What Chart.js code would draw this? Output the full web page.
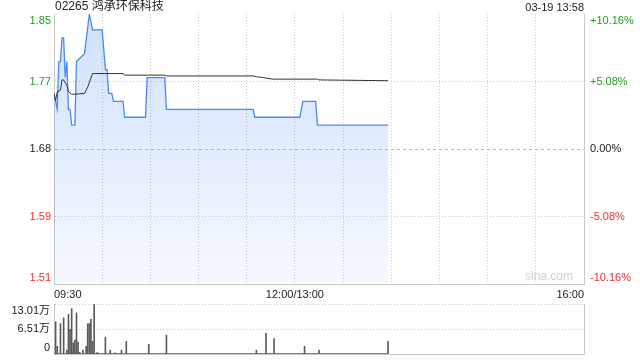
<!DOCTYPE html>
<html>
<head>
<meta charset="utf-8">
<script src="https://cdn.jsdelivr.net/npm/chart.js@4.4.1/dist/chart.umd.min.js"></script>
<style>
  html, body { margin: 0; padding: 0; background: #fff; width: 640px; height: 360px; overflow: hidden; }
  #main { position: absolute; left: 0; top: 0; }
  #vol { position: absolute; left: 0; top: 300px; }
</style>
</head>
<body>
<canvas id="main" width="640" height="300"></canvas>
<canvas id="vol" width="640" height="60"></canvas>
<script>
// header texts
const stockTitle = '02265 鸿承环保科技';
const stampText = '03-19 13:58';
const watermark = 'sina.com';

// time axis: minutes since 09:30 (lunch break removed, 330 trading minutes)
const timeTicks = [0, 150, 330];
const timeLabels = ['09:30', '12:00/13:00', '16:00'];

// price axis (left) and change axis (right)
const priceTicks = [1.51, 1.595, 1.68, 1.765, 1.85];
const priceLabels = ['1.51', '1.59', '1.68', '1.77', '1.85'];
const pctTicks = [-10.16, -5.08, 0, 5.08, 10.16];
const pctLabels = ['-10.16%', '-5.08%', '0.00%', '+5.08%', '+10.16%'];

// volume axis (万股)
const volTicks = [0, 6.505, 13.01];
const volLabels = ['0', '6.51万', '13.01万'];

// price line
const priceMinutes = [0, 1, 2, 3, 4, 5, 6, 7, 8, 9, 10, 11, 12, 13, 14, 19, 22, 24, 30, 32, 33, 34, 36, 37, 43, 44, 57, 58, 69, 70, 124, 125, 153, 155, 163, 164, 208];
const priceValues = [1.75, 1.74, 1.73, 1.79, 1.79, 1.82, 1.82, 1.77, 1.79, 1.73, 1.73, 1.71, 1.71, 1.71, 1.79, 1.80, 1.85, 1.83, 1.83, 1.78, 1.78, 1.75, 1.75, 1.74, 1.74, 1.72, 1.72, 1.77, 1.77, 1.73, 1.73, 1.72, 1.72, 1.74, 1.74, 1.71, 1.71];

// average price line
const avgMinutes = [0, 1, 2, 4, 5, 6, 8, 9, 11, 13, 19, 21, 24, 43, 44, 69, 70, 124, 126, 130, 136, 164, 165, 208];
const avgValues = [1.75, 1.741, 1.752, 1.754, 1.767, 1.767, 1.760, 1.752, 1.749, 1.749, 1.750, 1.758, 1.775, 1.775, 1.773, 1.773, 1.772, 1.772, 1.771, 1.770, 1.768, 1.768, 1.767, 1.766];

// volume bars
const volMinutes = [1, 2, 4, 6, 8, 9, 10, 11, 12, 13, 14, 15, 16, 18, 20, 21, 22, 23, 24, 25, 27, 32, 35, 38, 42, 45, 59, 70, 126, 132, 137, 156, 165, 208];
const volValues = [8.4, 2.0, 7.9, 9.4, 1.0, 10.3, 6.4, 11.8, 2.9, 3.6, 10.7, 3.1, 0.4, 1.0, 2.0, 7.9, 7.9, 9.0, 3.3, 13.01, 0.4, 4.4, 1.0, 0.3, 1.0, 3.3, 2.5, 4.9, 1.0, 5.4, 4.0, 2.0, 1.0, 3.3];
const tradedRange = [0, 208];

const GRID = '#cccccc';
const FRAME = '#c8c8c8';
const UP = '#1f9e1f';
const DOWN = '#ee3030';
const LATIN = '"Liberation Sans", Arial, sans-serif';
const FONT = '11px ' + LATIN;

function toTicks(values) {
  return values.map(v => ({ value: v }));
}

function labelY(scale, v) {
  const y = scale.getPixelForValue(v);
  return Math.min(Math.max(y, scale.top + 6.5), scale.bottom - 6.5);
}

function signColor(i, mid) {
  if (i > mid) return UP;
  if (i < mid) return DOWN;
  return '#222';
}

// axis texts for the price panel
const priceText = {
  id: 'priceText',
  afterDraw(chart) {
    const { ctx, chartArea, scales } = chart;
    ctx.save();
    ctx.textBaseline = 'middle';
    ctx.font = '12px ' + LATIN.replace('sans-serif', '"Noto Sans CJK SC", sans-serif');
    ctx.fillStyle = '#222';
    ctx.textAlign = 'left';
    ctx.fillText(stockTitle, chartArea.left + 1, 7);
    ctx.font = FONT;
    ctx.textAlign = 'right';
    ctx.fillText(stampText, chartArea.right, 8);

    priceTicks.forEach((v, i) => {
      ctx.fillStyle = signColor(i, 2);
      ctx.textAlign = 'right';
      ctx.fillText(priceLabels[i], chartArea.left - 3, labelY(scales.y, v));
    });
    pctTicks.forEach((v, i) => {
      ctx.fillStyle = signColor(i, 2);
      ctx.textAlign = 'left';
      ctx.fillText(pctLabels[i], chartArea.right + 6, labelY(scales.pct, v));
    });

    ctx.font = '12px ' + LATIN;
    ctx.fillStyle = '#d0d0d0';
    ctx.textAlign = 'right';
    ctx.fillText(watermark, chartArea.right - 11, chartArea.bottom - 7);
    ctx.restore();
  }
};

// axis texts for the volume panel
const volText = {
  id: 'volText',
  afterDraw(chart) {
    const { ctx, chartArea, scales } = chart;
    ctx.save();
    ctx.textBaseline = 'middle';
    ctx.textAlign = 'right';
    ctx.fillStyle = '#222';
    ctx.font = '11px ' + LATIN.replace('sans-serif', '"Noto Sans CJK SC", sans-serif');
    volTicks.forEach((v, i) => {
      ctx.fillText(volLabels[i], chartArea.left - 4, labelY(scales.y, v));
    });
    ctx.restore();
  }
};

new Chart(document.getElementById('main'), {
  type: 'line',
  data: {
    datasets: [
      {
        label: '均价',
        data: avgMinutes.map((m, i) => ({ x: m, y: avgValues[i] })),
        borderColor: '#333',
        borderWidth: 1,
        pointRadius: 0,
        fill: false,
        order: 0
      },
      {
        label: '价格',
        data: priceMinutes.map((m, i) => ({ x: m, y: priceValues[i] })),
        borderColor: '#4a8af0',
        borderWidth: 1.3,
        pointRadius: 0,
        fill: 'start',
        backgroundColor: c => {
          const area = c.chart.chartArea;
          if (!area) return 'rgba(74,138,240,0.15)';
          const g = c.chart.ctx.createLinearGradient(0, area.top, 0, area.bottom);
          g.addColorStop(0, 'rgba(74,138,240,0.26)');
          g.addColorStop(1, 'rgba(74,138,240,0.05)');
          return g;
        },
        order: 1
      }
    ]
  },
  options: {
    responsive: false,
    animation: false,
    devicePixelRatio: 1,
    layout: { padding: { top: 14, left: 0, right: 0, bottom: 0 } },
    plugins: { legend: { display: false }, tooltip: { enabled: false } },
    scales: {
      x: {
        type: 'linear',
        min: 0,
        max: 330,
        ticks: {
          stepSize: 30,
          autoSkip: false,
          maxRotation: 0,
          align: 'inner',
          padding: 4,
          color: '#222',
          font: { family: LATIN, size: 11 },
          callback: v => {
            const i = timeTicks.indexOf(v);
            return i >= 0 ? timeLabels[i] : '';
          }
        },
        grid: { color: GRID, drawTicks: false },
        border: { color: FRAME, dash: [1, 2] },
        afterFit: s => { s.height = 16; }
      },
      y: {
        position: 'left',
        min: 1.51,
        max: 1.85,
        afterBuildTicks: s => { s.ticks = toTicks(priceTicks); },
        ticks: { display: false },
        grid: {
          drawTicks: false,
          color: c => {
            if (c.tick && c.tick.value === 1.85) return 'rgba(0,0,0,0)';
            if (c.tick && c.tick.value === 1.68) return '#b8b8b8';
            return GRID;
          }
        },
        border: {
          color: FRAME,
          dash: c => (c.tick && c.tick.value === 1.68) ? [3, 3] : [1, 2]
        },
        afterFit: s => { s.width = 54; }
      },
      pct: {
        position: 'right',
        min: -10.16,
        max: 10.16,
        afterBuildTicks: s => { s.ticks = toTicks(pctTicks); },
        ticks: { display: false },
        grid: { drawOnChartArea: false, drawTicks: false },
        border: { color: FRAME },
        afterFit: s => { s.width = 56; }
      }
    }
  },
  plugins: [priceText]
});

new Chart(document.getElementById('vol'), {
  type: 'bar',
  data: {
    datasets: [
      {
        type: 'line',
        data: tradedRange.map(m => ({ x: m, y: 0 })),
        borderColor: '#555',
        borderWidth: 1.5,
        pointRadius: 0,
        order: 0
      },
      {
        data: volMinutes.map((m, i) => ({ x: m, y: volValues[i] })),
        backgroundColor: '#5a5a5a',
        barThickness: 1,
        order: 1
      }
    ]
  },
  options: {
    responsive: false,
    animation: false,
    devicePixelRatio: 1,
    layout: { padding: { top: 4, left: 0, right: 0, bottom: 0 } },
    plugins: { legend: { display: false }, tooltip: { enabled: false } },
    scales: {
      x: {
        type: 'linear',
        min: 0,
        max: 330,
        offset: false,
        ticks: { display: false },
        grid: { display: false, drawTicks: false },
        border: { color: FRAME },
        afterFit: s => { s.height = 6; }
      },
      y: {
        position: 'left',
        min: 0,
        max: 13.01,
        afterBuildTicks: s => { s.ticks = toTicks(volTicks); },
        ticks: { display: false },
        grid: {
          drawTicks: false,
          color: c => (c.tick && c.tick.value === 0) ? 'rgba(0,0,0,0)' : GRID
        },
        border: { color: FRAME, dash: [1, 2] },
        afterFit: s => { s.width = 54; }
      },
      y2: {
        position: 'right',
        min: 0,
        max: 13.01,
        ticks: { display: false },
        grid: { drawOnChartArea: false, drawTicks: false },
        border: { color: FRAME },
        afterFit: s => { s.width = 56; }
      }
    }
  },
  plugins: [volText]
});
</script>
</body>
</html>
